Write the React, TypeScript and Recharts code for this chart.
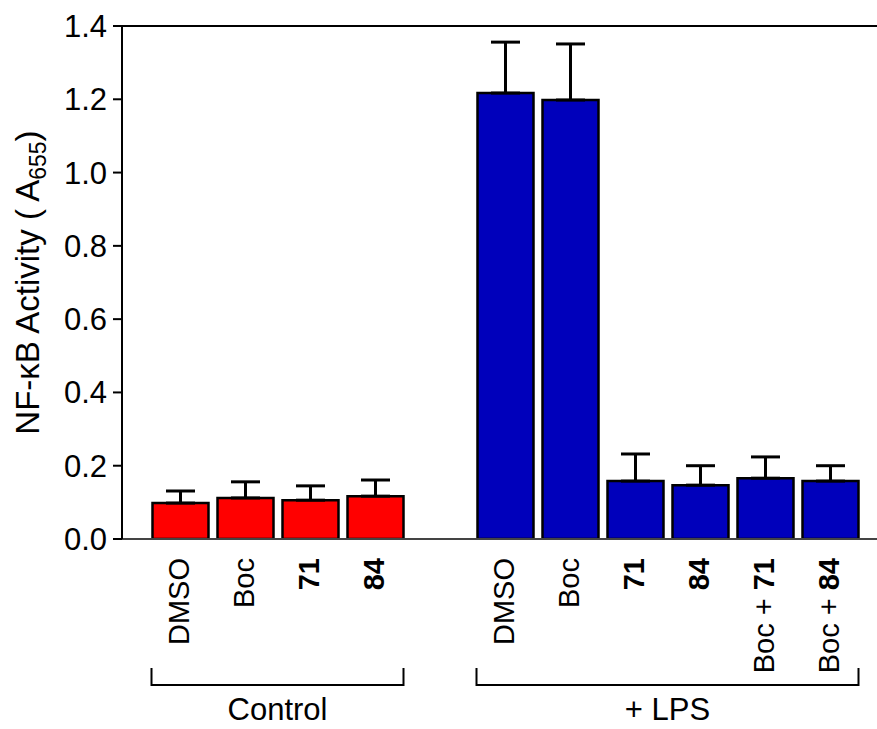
import React from "react";
import {
  BarChart,
  Bar,
  Cell,
  XAxis,
  YAxis,
  ErrorBar,
  ReferenceLine,
} from "recharts";

const FONT = '"Liberation Sans", Arial, Helvetica, sans-serif';

const CONTROL_LABELS = ["DMSO", "Boc", "71", "84"];
const CONTROL_VALUES = [0.098, 0.112, 0.106, 0.117];
const CONTROL_ERRORS = [0.033, 0.044, 0.039, 0.044];

const LPS_LABELS = ["DMSO", "Boc", "71", "84", "Boc + 71", "Boc + 84"];
const LPS_VALUES = [1.217, 1.198, 0.158, 0.147, 0.166, 0.158];
const LPS_ERRORS = [0.139, 0.153, 0.074, 0.053, 0.058, 0.042];

const GROUP_NAMES = ["Control", "+ LPS"];
const Y_TICKS = [0, 0.2, 0.4, 0.6, 0.8, 1.0, 1.2, 1.4];

const RED = "#FF0000";
const BLUE = "#0000BB";

// layout
const W = 877;
const H = 729;
const PLOT_LEFT = 122;
const PLOT_TOP = 26;
const PLOT_BOTTOM = 539;
const PAD_LEFT = 25.5;
const PAD_RIGHT = 14.5;
const BAND = (W - PLOT_LEFT - PAD_LEFT - PAD_RIGHT) / 11;

type Row = { key: string; label: string; value: number | null; err: number[] | null; color: string };

const rows: Row[] = [
  ...CONTROL_LABELS.map((label, i) => ({
    key: "c" + i,
    label,
    value: CONTROL_VALUES[i],
    err: [0, CONTROL_ERRORS[i]],
    color: RED,
  })),
  { key: "gap", label: "", value: null, err: null, color: "none" },
  ...LPS_LABELS.map((label, i) => ({
    key: "l" + i,
    label,
    value: LPS_VALUES[i],
    err: [0, LPS_ERRORS[i]],
    color: BLUE,
  })),
];

function CategoryTick(props: any) {
  const { x, y, payload } = props;
  const row = rows.find((r) => r.key === payload.value);
  if (!row || !row.label) return null;
  const parts = row.label.split(/(\d+)/).filter((p) => p !== "");
  return (
    <text
      transform={`translate(${x - 1},${y}) rotate(-90)`}
      textAnchor="end"
      dy="0.36em"
      fontSize={29}
      fontFamily={FONT}
      fill="#000"
    >
      {parts.map((p, i) => (
        <tspan key={i} fontWeight={/^\d+$/.test(p) ? "bold" : "normal"}>
          {p}
        </tspan>
      ))}
    </text>
  );
}

function YLabel(props: any) {
  const vb = props.viewBox || { y: PLOT_TOP, height: PLOT_BOTTOM - PLOT_TOP };
  const cy = vb.y + vb.height / 2;
  return (
    <text
      transform={`translate(27,${cy}) rotate(-90)`}
      textAnchor="middle"
      dy="0.36em"
      fontSize={33}
      fontFamily={FONT}
      fill="#000"
    >
      NF-κB Activity ( A
      <tspan fontSize={23} dy={7}>655</tspan>
      <tspan dy={-7}>)</tspan>
    </text>
  );
}

function Brackets() {
  const groups = [
    { name: GROUP_NAMES[0], first: 0, last: CONTROL_LABELS.length - 1 },
    { name: GROUP_NAMES[1], first: CONTROL_LABELS.length + 1, last: rows.length - 1 },
  ];
  const by = 685;
  return (
    <svg
      width={W}
      height={H}
      style={{ position: "absolute", left: 0, top: 0, pointerEvents: "none" }}
    >
      {groups.map((g) => {
        const x1 = PLOT_LEFT + PAD_LEFT + g.first * BAND + 4;
        const x2 = PLOT_LEFT + PAD_LEFT + (g.last + 1) * BAND - 4;
        return (
          <g key={g.name}>
            <path
              d={`M${x1},${by - 17} L${x1},${by} L${x2},${by} L${x2},${by - 17}`}
              fill="none"
              stroke="#000"
              strokeWidth={2}
            />
            <text
              x={(x1 + x2) / 2}
              y={720}
              textAnchor="middle"
              fontSize={31}
              fontFamily={FONT}
              fill="#000"
            >
              {g.name}
            </text>
          </g>
        );
      })}
    </svg>
  );
}

export default function App() {
  return (
    <div style={{ position: "absolute", left: 0, top: 0, width: W, height: H, background: "#fff" }}>
      <BarChart
        width={W}
        height={H}
        data={rows}
        margin={{ top: PLOT_TOP, right: 0, bottom: 0, left: 0 }}
        barCategoryGap={3}
      >
        <XAxis
          dataKey="key"
          type="category"
          padding={{ left: PAD_LEFT, right: PAD_RIGHT }}
          axisLine={{ stroke: "#444", strokeWidth: 2 }}
          tickLine={false}
          tickSize={0}
          tickMargin={19}
          interval={0}
          tick={<CategoryTick />}
          height={H - PLOT_BOTTOM}
        />
        <YAxis
          width={PLOT_LEFT}
          domain={[0, 1.4]}
          ticks={Y_TICKS}
          allowDataOverflow
          tickFormatter={(v: number) => v.toFixed(1)}
          axisLine={{ stroke: "#000", strokeWidth: 2 }}
          tickLine={{ stroke: "#000", strokeWidth: 2 }}
          tickSize={9}
          tickMargin={6}
          tick={{ fontSize: 31, fontFamily: FONT, fill: "#000" }}
          label={{ content: <YLabel /> }}
        />
        <ReferenceLine y={1.4} stroke="#000" strokeWidth={2} />
        <Bar
          dataKey="value"
          barSize={56}
          stroke="#000"
          strokeWidth={2.5}
          isAnimationActive={false}
        >
          {rows.map((r) => (
            <Cell key={r.key} fill={r.color} stroke={r.value == null ? "none" : "#000"} />
          ))}
          <ErrorBar
            dataKey="err"
            direction="y"
            width={14.5}
            stroke="#000"
            strokeWidth={3}
            isAnimationActive={false}
          />
        </Bar>
      </BarChart>
      <Brackets />
    </div>
  );
}
